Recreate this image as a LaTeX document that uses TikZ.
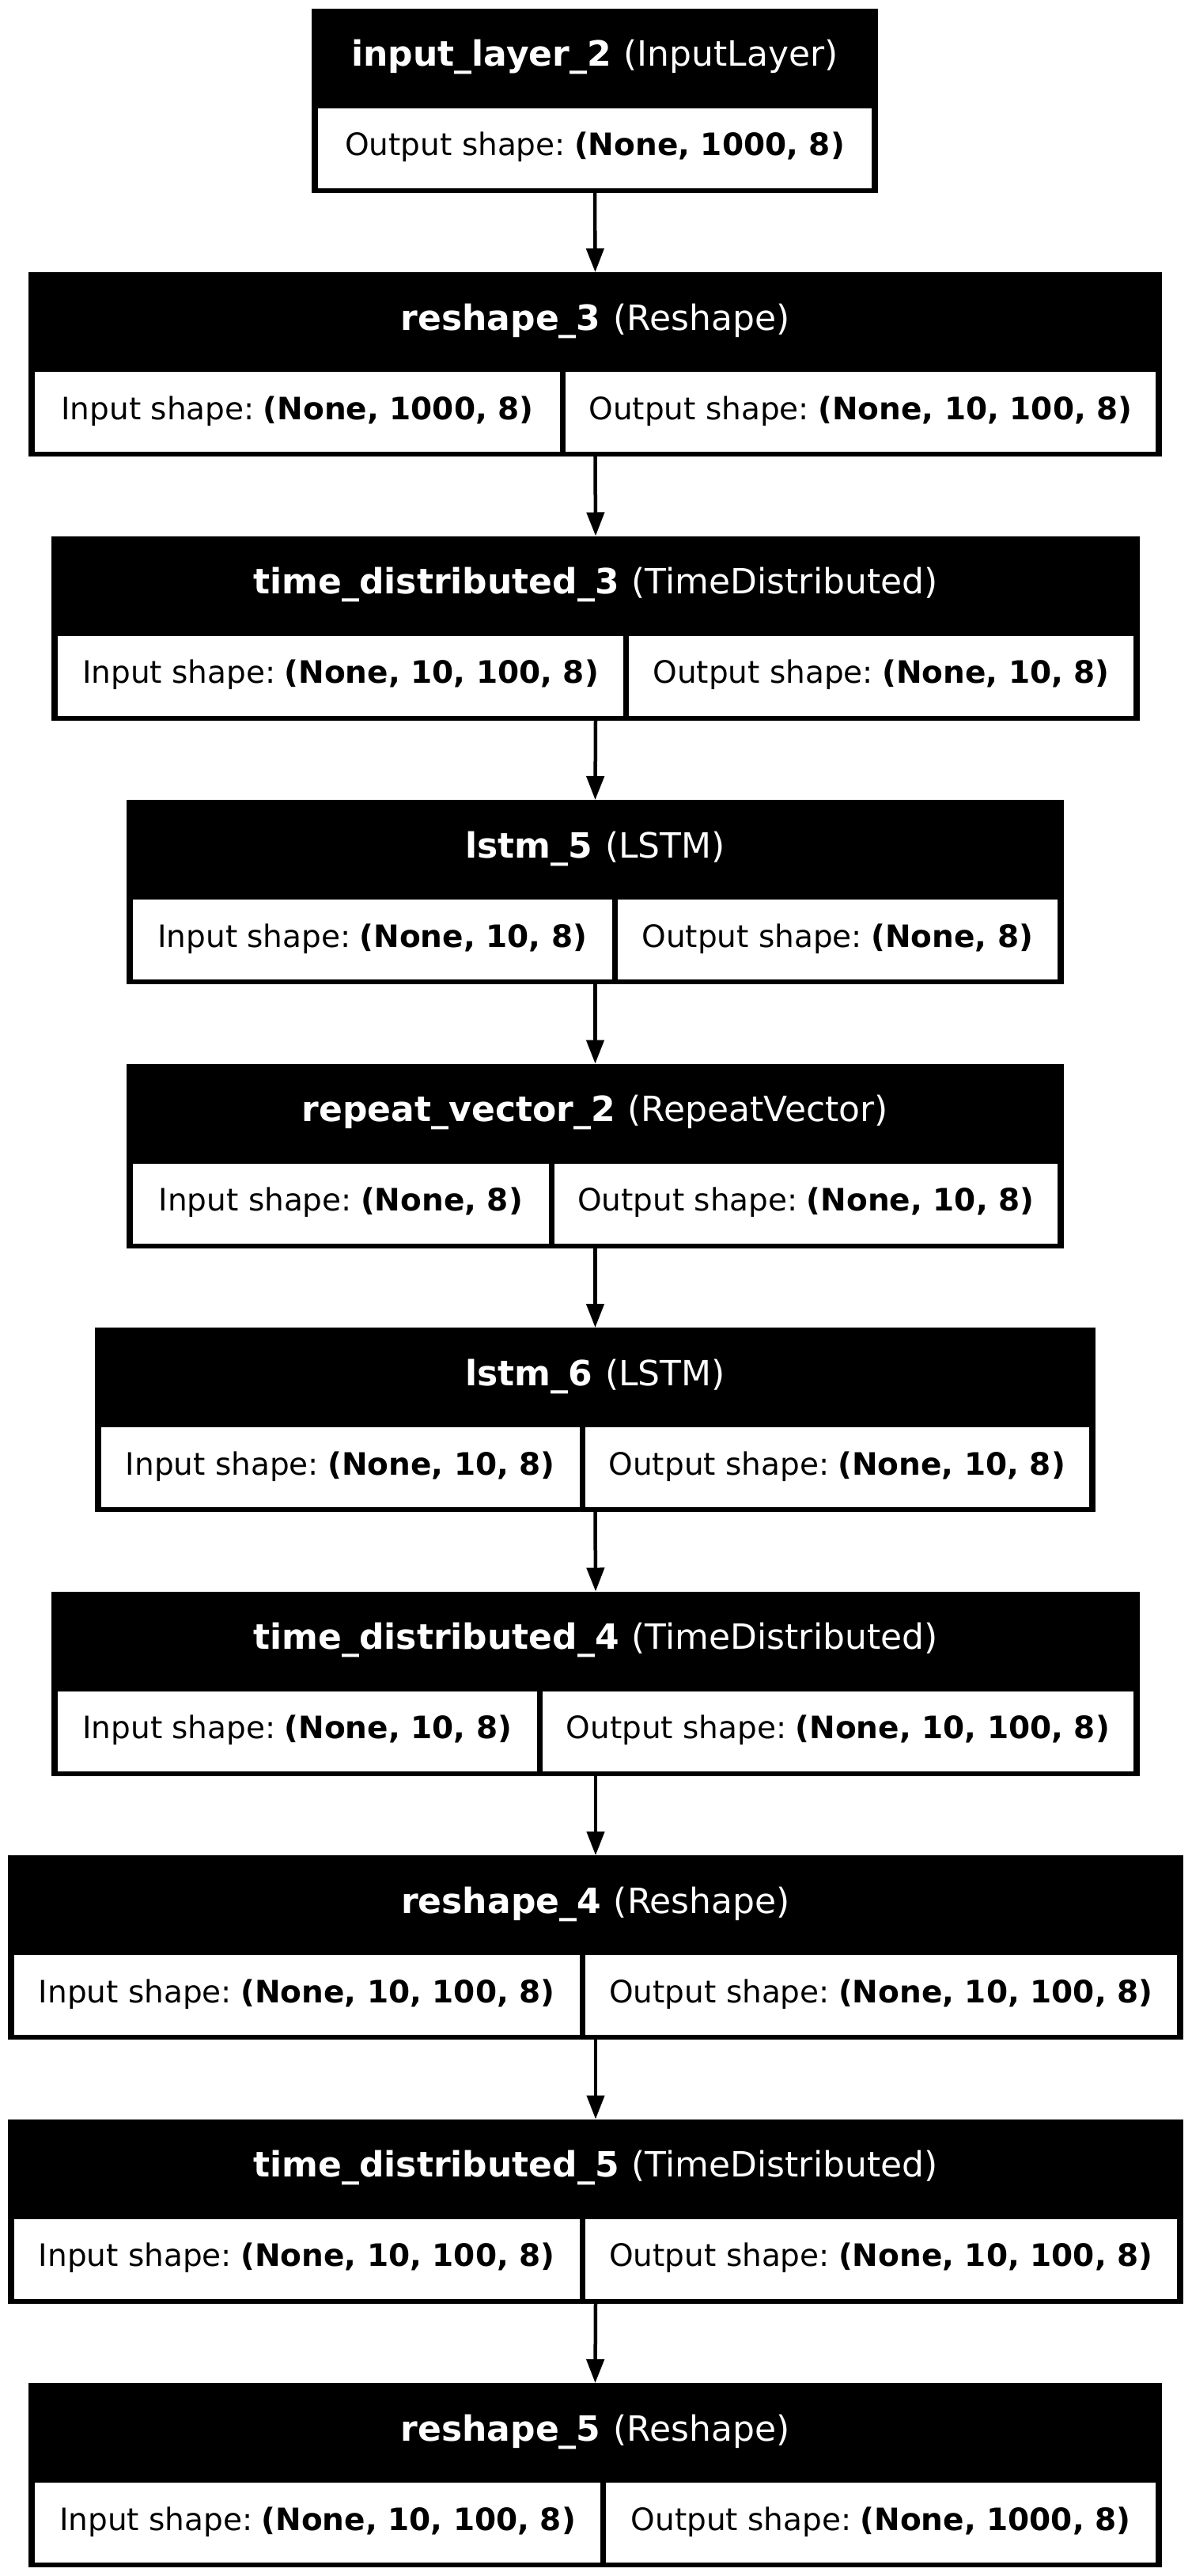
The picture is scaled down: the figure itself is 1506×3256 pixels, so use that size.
\documentclass[tikz,border=0pt]{standalone}
\usepackage{fontspec}
\setmainfont{DejaVu Sans}
\usetikzlibrary{arrows.meta}
\newcommand{\titlefont}{\fontsize{22pt}{24pt}\selectfont}
\newcommand{\cellfont}{\fontsize{19.5pt}{22pt}\selectfont}
\tikzset{
 outerbox/.style={rectangle, fill=black, draw=none, inner sep=0pt, outer sep=0pt, minimum height=116.5pt},
 cellbox/.style={rectangle, fill=white, draw=none, inner sep=0pt, outer sep=0pt, minimum height=50.5pt, text height=30pt, text depth=20.5pt, font=\cellfont, text=black},
 titletext/.style={inner sep=0pt, anchor=base, text=white, font=\titlefont},
 arr/.style={-{Triangle[width=11pt,length=15pt]}, line width=2.25pt, draw=black}
}
% #1 name, #2 L, #3 R, #4 split centre, #5 top, #6 bold name, #7 class, #8 input, #9 output
\newcommand{\twoblk}[9]{%
 \pgfmathsetmacro{\bw}{(#3-#2)/2}%
 \pgfmathsetmacro{\lw}{(#4-3.5-#2-8)/2}%
 \pgfmathsetmacro{\rw}{(#3-8-#4-3.5)/2}%
 \pgfmathsetmacro{\cx}{(#2+#3)/2}%
 \node[outerbox, minimum width=\bw pt, anchor=north west] (#1) at (#2,#5) {};
 \node[titletext] (#1t) at (\cx,#5+73) {\textbf{#6}\hspace{8pt}(#7)};
 \node[cellbox, minimum width=\lw pt, anchor=north west] (#1a) at (#2+8,#5+126) {Input shape:\hspace{5.6pt}\textbf{#8}};
 \node[cellbox, minimum width=\rw pt, anchor=north west] (#1b) at (#4+3.5,#5+126) {Output shape:\hspace{5.6pt}\textbf{#9}};
}
% #1 name, #2 L, #3 R, #4 top, #5 bold name, #6 class, #7 output
\newcommand{\oneblk}[7]{%
 \pgfmathsetmacro{\bw}{(#3-#2)/2}%
 \pgfmathsetmacro{\cw}{(#3-#2-16)/2}%
 \pgfmathsetmacro{\cx}{(#2+#3)/2}%
 \node[outerbox, minimum width=\bw pt, anchor=north west] (#1) at (#2,#4) {};
 \node[titletext] (#1t) at (\cx,#4+73) {\textbf{#5}\hspace{8pt}(#6)};
 \node[cellbox, minimum width=\cw pt, anchor=north west] (#1a) at (#2+8,#4+126) {Output shape:\hspace{5.6pt}\textbf{#7}};
}
\begin{document}
\begin{tikzpicture}[x=0.5pt,y=-0.5pt]
\fill[white] (0,0) rectangle (1506,3256);
\useasboundingbox (0,0) rectangle (1506,3256);
\oneblk{b1}{394}{1110}{10.5}{input\_layer\_2}{InputLayer}{(None, 1000, 8)}
\twoblk{b2}{36}{1469}{711.5}{344}{reshape\_3}{Reshape}{(None, 1000, 8)}{(None, 10, 100, 8)}
\twoblk{b3}{65}{1441}{791.5}{677.5}{time\_distributed\_3}{TimeDistributed}{(None, 10, 100, 8)}{(None, 10, 8)}
\twoblk{b4}{160}{1345}{777}{1011}{lstm\_5}{LSTM}{(None, 10, 8)}{(None, 8)}
\twoblk{b5}{160}{1345}{697}{1344.5}{repeat\_vector\_2}{RepeatVector}{(None, 8)}{(None, 10, 8)}
\twoblk{b6}{120}{1385}{736}{1678}{lstm\_6}{LSTM}{(None, 10, 8)}{(None, 10, 8)}
\twoblk{b7}{65}{1441}{682}{2011.5}{time\_distributed\_4}{TimeDistributed}{(None, 10, 8)}{(None, 10, 100, 8)}
\twoblk{b8}{10}{1496}{736}{2345}{reshape\_4}{Reshape}{(None, 10, 100, 8)}{(None, 10, 100, 8)}
\twoblk{b9}{10}{1496}{736}{2678.5}{time\_distributed\_5}{TimeDistributed}{(None, 10, 100, 8)}{(None, 10, 100, 8)}
\twoblk{b10}{36}{1469}{762.5}{3012}{reshape\_5}{Reshape}{(None, 10, 100, 8)}{(None, 1000, 8)}
\foreach \a/\b in {b1/b2,b2/b3,b3/b4,b4/b5,b5/b6,b6/b7,b7/b8,b8/b9,b9/b10}
  \draw[arr] (\a.south) -- (\b.north);
\end{tikzpicture}
\end{document}
